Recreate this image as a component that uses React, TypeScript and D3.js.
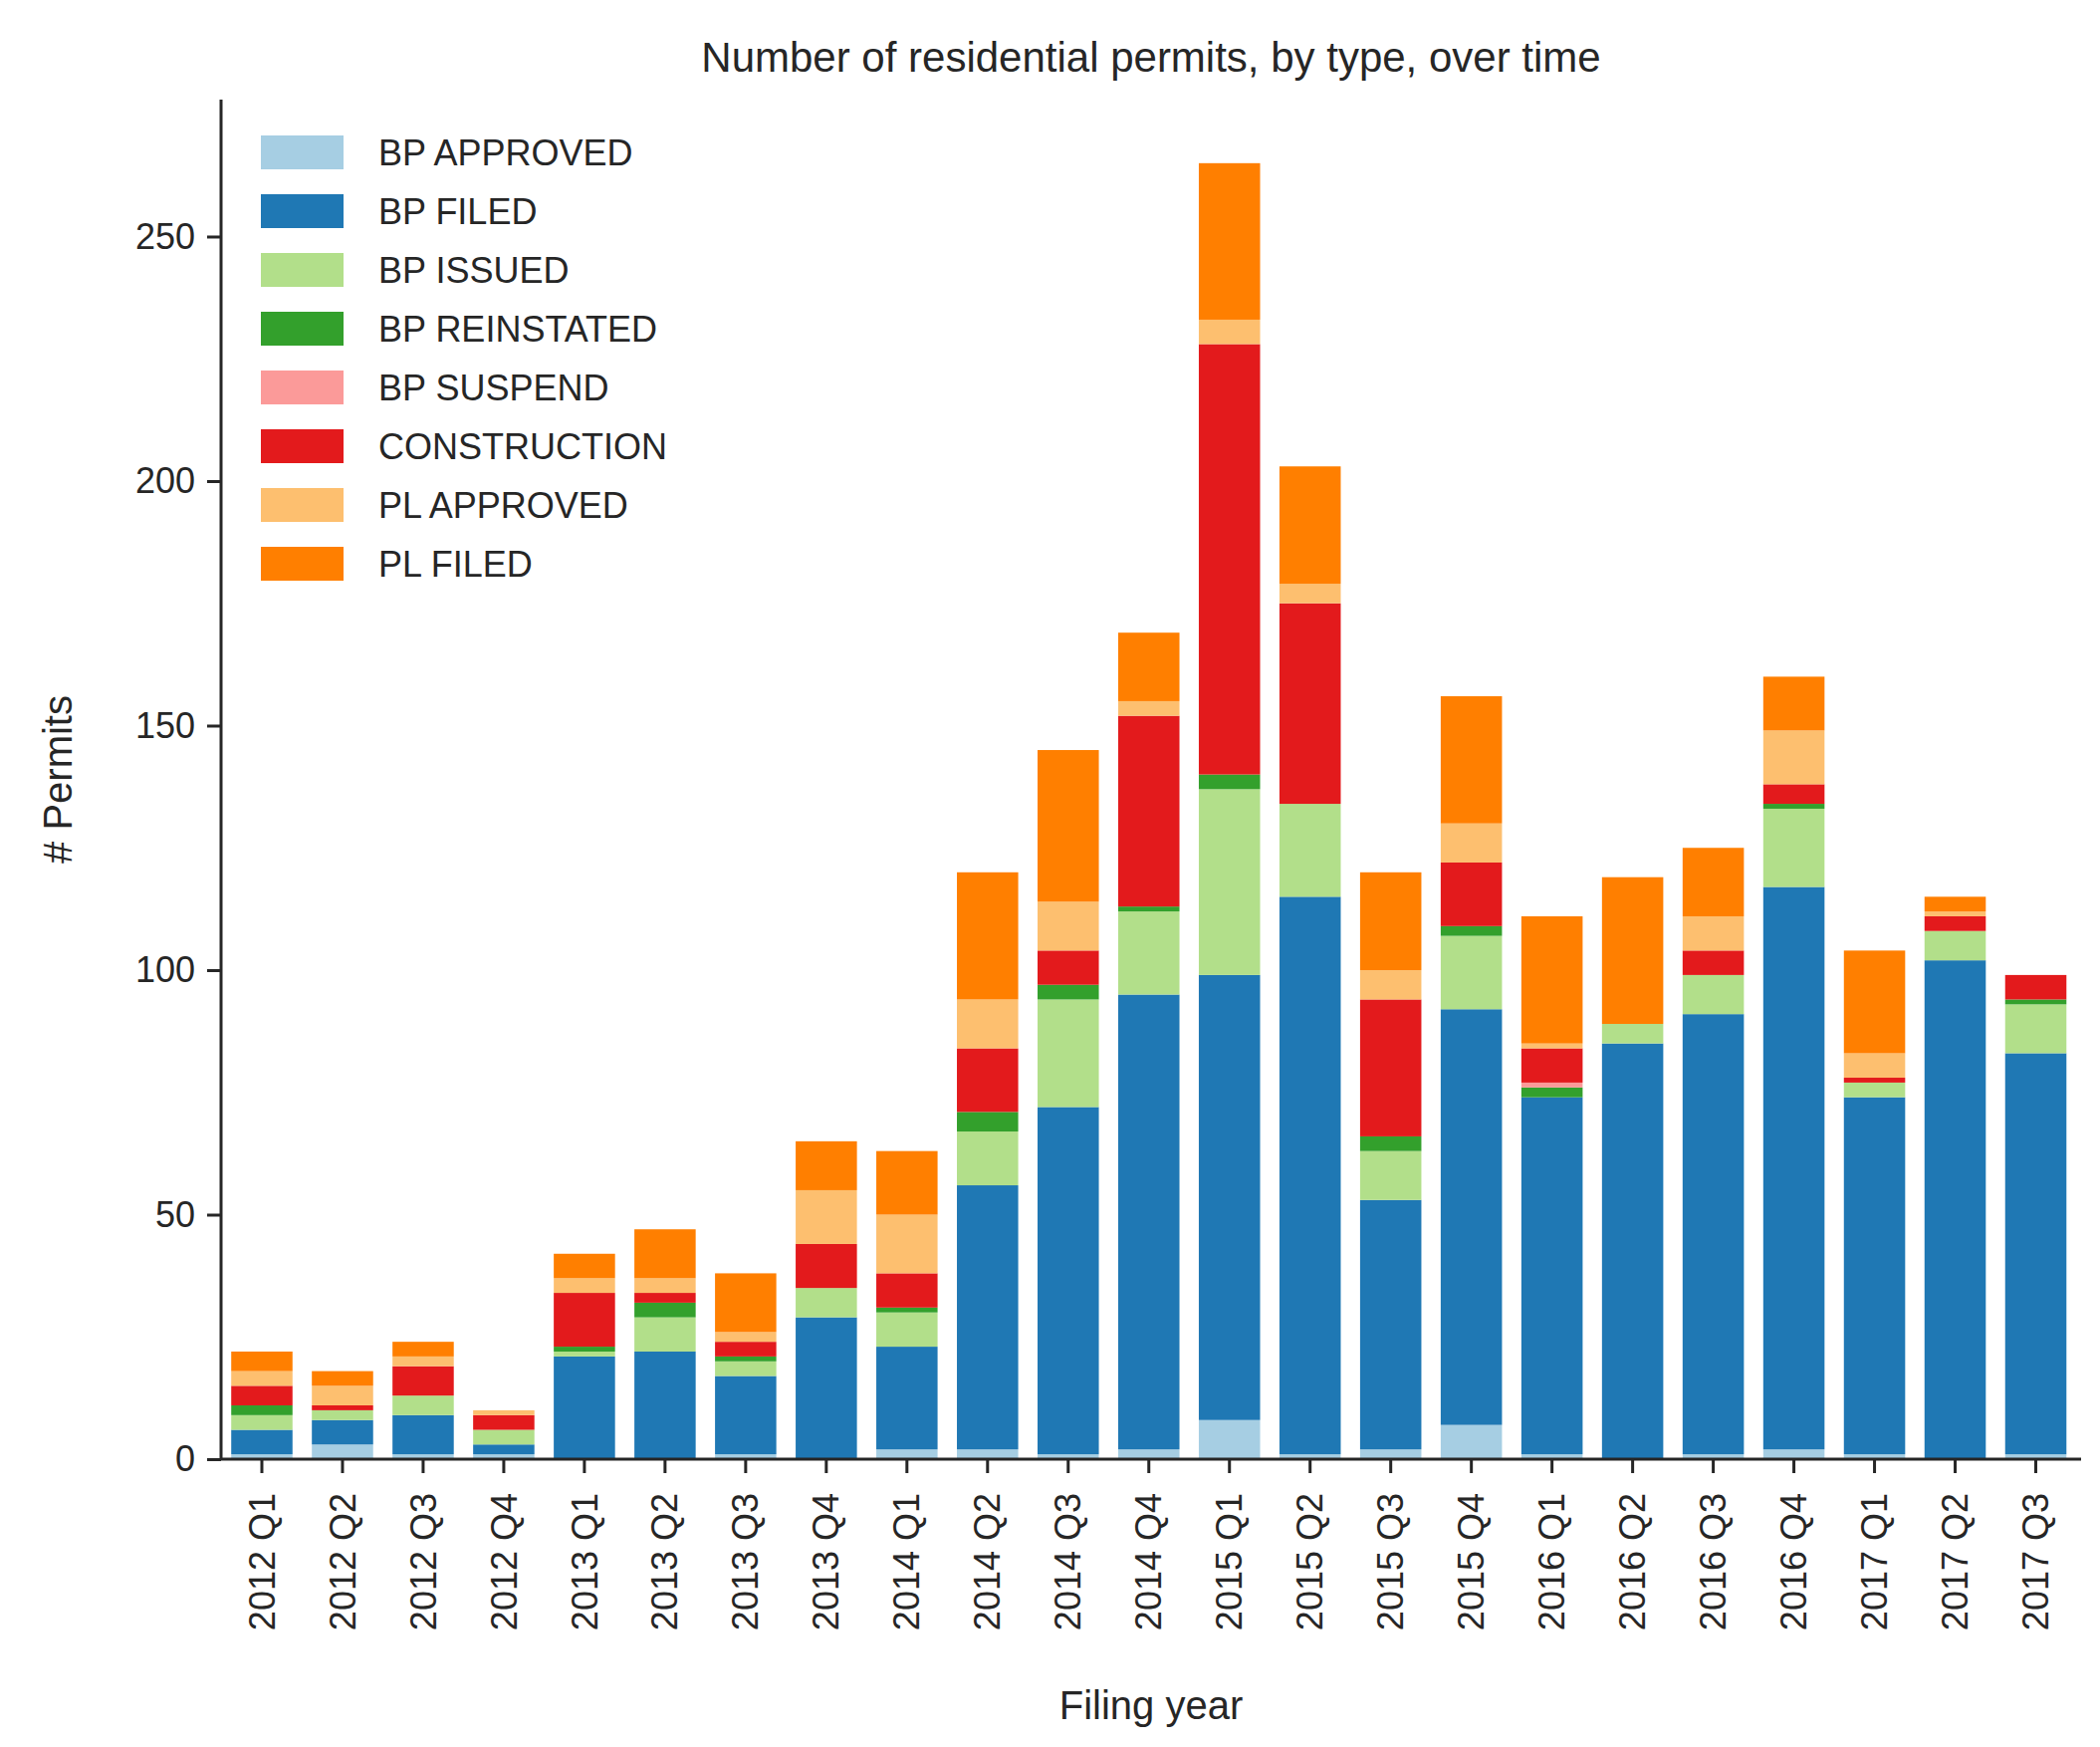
import React, { useEffect, useRef } from 'react'
import * as d3 from 'd3'

const quarters = ['2012 Q1','2012 Q2','2012 Q3','2012 Q4','2013 Q1','2013 Q2','2013 Q3','2013 Q4','2014 Q1','2014 Q2','2014 Q3','2014 Q4','2015 Q1','2015 Q2','2015 Q3','2015 Q4','2016 Q1','2016 Q2','2016 Q3','2016 Q4','2017 Q1','2017 Q2','2017 Q3']
const types = ['BP APPROVED','BP FILED','BP ISSUED','BP REINSTATED','BP SUSPEND','CONSTRUCTION','PL APPROVED','PL FILED']
const colors = ['#a6cee3','#1f78b4','#b2df8a','#33a02c','#fb9a99','#e31a1c','#fdbf6f','#ff7f00']

const bpApproved = [1,3,1,1,0,0,1,0,2,2,1,2,8,1,2,7,1,0,1,2,1,0,1]
const bpFiled = [5,5,8,2,21,22,16,29,21,54,71,93,91,114,51,85,73,85,90,115,73,102,82]
const bpIssued = [3,2,4,3,1,7,3,6,7,11,22,17,38,19,10,15,0,4,8,16,3,6,10]
const bpReinstated = [2,0,0,0,1,3,1,0,1,4,3,1,3,0,3,2,2,0,0,1,0,0,1]
const bpSuspend = [0,0,0,0,0,0,0,0,0,0,0,0,0,0,0,0,1,0,0,0,0,0,0]
const construction = [4,1,6,3,11,2,3,9,7,13,7,39,88,41,28,13,7,0,5,4,1,3,5]
const plApproved = [3,4,2,1,3,3,2,11,12,10,10,3,5,4,6,8,1,0,7,11,5,1,0]
const plFiled = [4,3,3,0,5,10,12,10,13,26,31,14,32,24,20,26,26,30,14,11,21,3,0]
const yTicks = [0, 50, 100, 150, 200, 250]

const series = [bpApproved, bpFiled, bpIssued, bpReinstated, bpSuspend, construction, plApproved, plFiled]

const W = 2109, H = 1754
const ink = '#262626'
const font = 'Liberation Sans, Arial, sans-serif'

export default function App() {
  const ref = useRef<SVGSVGElement>(null)

  useEffect(() => {
    const svg = d3.select(ref.current)
    svg.selectAll('*').remove()
    svg.attr('width', W).attr('height', H).style('font-family', font)

    const left = 214, right = 2082, top = 92, bottom = 1457

    const x = d3.scaleBand().domain(quarters).range([left + 0.5, right - 5]).paddingInner(0.24).paddingOuter(0.12)
    const y = d3.scaleLinear().domain([0, 278]).range([bottom, top])

    const rows = quarters.map((q, i) => {
      const r: any = { q }
      types.forEach((t, j) => { r[t] = series[j][i] })
      return r
    })
    const stacked = d3.stack().keys(types)(rows)

    const g = svg.append('g')
    stacked.forEach((layer, j) => {
      g.selectAll(null).data(layer).enter().append('rect')
        .attr('x', (d: any) => x(d.data.q)!)
        .attr('width', x.bandwidth())
        .attr('y', d => y(d[1]))
        .attr('height', d => y(d[0]) - y(d[1]))
        .attr('fill', colors[j])
    })

    // axes
    const xa = svg.append('g').attr('transform', `translate(0,${bottom})`)
      .call(d3.axisBottom(x).tickSize(14).tickPadding(10).tickSizeOuter(0))
    xa.select('.domain').attr('d', `M${left},0H${right}`)
    xa.selectAll('line').attr('stroke', ink).attr('stroke-width', 3)
    xa.select('.domain').attr('stroke', ink).attr('stroke-width', 3)
    xa.selectAll('text')
      .attr('transform', 'rotate(-90)')
      .attr('x', -34).attr('y', 0).attr('dy', '0.35em')
      .attr('text-anchor', 'end')
      .attr('font-size', 36).attr('font-family', font).attr('fill', ink)

    const ya = svg.append('g').attr('transform', `translate(${left},0)`)
      .call(d3.axisLeft(y).tickValues(yTicks).tickSize(14).tickPadding(12).tickSizeOuter(0))
    ya.select('.domain').attr('d', `M0,${top}V${bottom}`).attr('stroke', ink).attr('stroke-width', 3)
    ya.selectAll('line').attr('stroke', ink).attr('stroke-width', 3)
    ya.selectAll('text').attr('font-size', 36).attr('font-family', font).attr('fill', ink)

    svg.append('text').attr('x', (left + right) / 2).attr('y', 64)
      .attr('text-anchor', 'middle').attr('font-size', 42).attr('fill', ink)
      .text('Number of residential permits, by type, over time')
    svg.append('text').attr('x', (left + right) / 2).attr('y', 1718)
      .attr('text-anchor', 'middle').attr('font-size', 40).attr('fill', ink)
      .text('Filing year')
    svg.append('text').attr('transform', `translate(64,${(top + bottom) / 2}) rotate(-90)`)
      .attr('text-anchor', 'middle').attr('font-size', 40).attr('fill', ink)
      .text('# Permits')

    // legend
    const lg = svg.append('g').attr('transform', 'translate(254,145)')
    types.forEach((t, j) => {
      lg.append('rect').attr('x', 0).attr('y', j * 59 - 17).attr('width', 83).attr('height', 34).attr('fill', colors[j])
      lg.append('text').attr('x', 118).attr('y', j * 59).attr('dy', '0.35em')
        .attr('font-size', 36).attr('fill', ink).text(t)
    })
  }, [])

  return <svg ref={ref}></svg>
}
